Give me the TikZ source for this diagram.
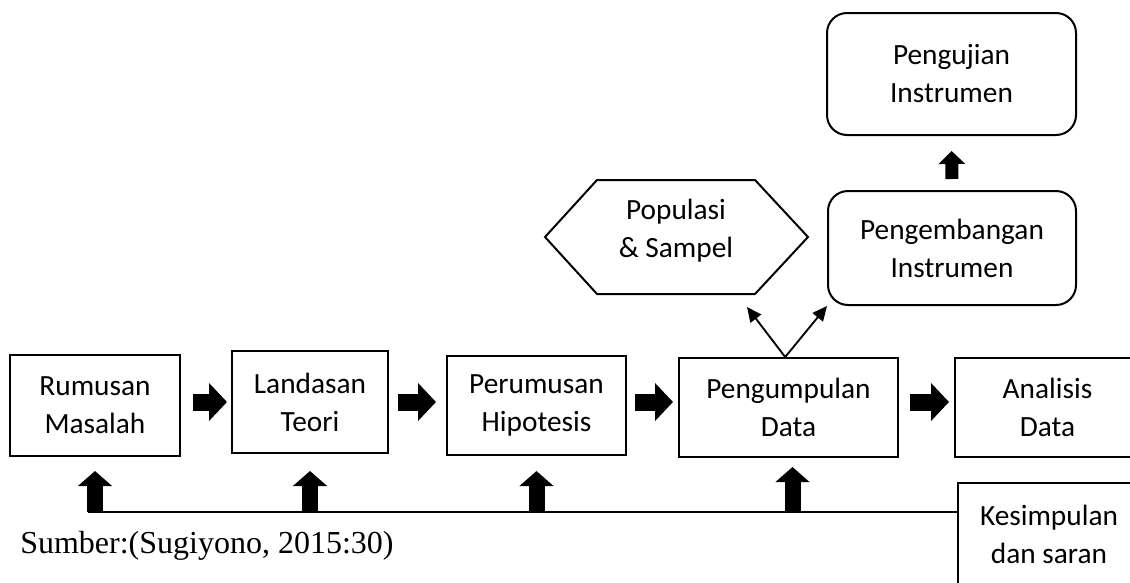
\documentclass[tikz,border=0pt]{standalone}
\usepackage{fontspec}
\setmainfont{Carlito}
\newfontfamily\srcfont{Liberation Serif}
\usetikzlibrary{arrows.meta,calc}
\begin{document}
\begin{tikzpicture}[x=0.75pt,y=-0.75pt,
  box/.style={draw,line width=1.5pt,align=center,inner sep=0pt,font=\fontsize{22}{28.5}\selectfont},
  rbox/.style={box,rounded corners=15pt},
  fatH/.style={line width=12.75pt,-{Triangle[width=27.75pt,length=13.5pt]}},
  fatV/.style={line width=12pt,-{Triangle[width=25pt,length=11.25pt]}},
  fatS/.style={line width=9.75pt,-{Triangle[width=19.5pt,length=9.75pt]}},
  thin/.style={line width=1.4pt,-{Triangle[width=10pt,length=11pt]}},
  fbline/.style={line width=1.6pt}]
\useasboundingbox (0,0) rectangle (1130,582);
\clip (0,0) rectangle (1130,582);
\fill[white] (0,0) rectangle (1130,582);

% main row
\node[box,minimum width=127.5pt,minimum height=75.75pt] (rm) at (95,405.5) {Rumusan\\Masalah};
\node[box,minimum width=117pt,minimum height=76.5pt] (ln) at (310,402) {Landasan\\Teori};
\node[box,minimum width=134.25pt,minimum height=74.25pt] (pr) at (536.5,405.5) {Perumusan\\Hipotesis};
\node[box,minimum width=164.25pt,minimum height=74.25pt] (pg) at (788.5,407.5) {Pengumpulan\\Data};
\node[box,minimum width=138.75pt,minimum height=74.25pt] (an) at (1047.5,407.5) {Analisis\\Data};
\node[box,minimum width=136.5pt,minimum height=76.5pt] (ks) at (1049,534) {Kesimpulan\\dan saran};

% upper
\node[rbox,minimum width=186.75pt,minimum height=91.5pt] (tst) at (951.5,74) {Pengujian\\Instrumen};
\node[rbox,minimum width=186pt,minimum height=85.5pt] (dev) at (952,248) {Pengembangan\\Instrumen};
\node[align=center,inner sep=0pt,font=\fontsize{22}{28.5}\selectfont] (pop) at (676,231) {Populasi\\\& Sampel};
\draw[line width=1.5pt,line join=miter] (545,237) -- (597,180) -- (755,180) -- (808,237) -- (755,294) -- (597,294) -- cycle;
\coordinate (popin) at (747,307);

% horizontal fat arrows
\draw[fatH,shorten <=9pt,shorten >=3pt] (rm.east |- 0,402) -- (ln.west |- 0,402);
\draw[fatH,shorten <=6.75pt,shorten >=7.5pt] (ln.east |- 0,402) -- (pr.west |- 0,402);
\draw[fatH,shorten <=6pt,shorten >=3.75pt] (pr.east |- 0,402) -- (pg.west |- 0,402);
\draw[fatH,shorten <=8.25pt,shorten >=3.75pt] (pg.east |- 0,402) -- (an.west |- 0,402);

% vertical fat arrow between rounded boxes
\draw[fatS,shorten <=8.25pt,shorten >=11.25pt] (dev.north) -- (tst.south);

% thin arrows
\draw[thin] ([xshift=-2.5pt]pg.north) -- (popin);
\draw[thin] ([xshift=-2.5pt]pg.north) -- (dev.south west);

% feedback line
\coordinate (fbR) at ($(ks.north west)+(0,30)$);
\draw[fbline] ($(rm.south |- fbR)+(-7,0)$) -- (fbR);
\draw[fatV] (rm.south |- fbR) -- ++(0,-41);
\draw[fatV] (ln.south |- fbR) -- ++(0,-41);
\draw[fatV] (pr.south |- fbR) -- ++(0,-41);
\draw[fatV] ([xshift=3pt]pg.south |- fbR) -- ++(0,-45);

% source
\node[anchor=base west,inner sep=0pt,font=\srcfont\fontsize{24}{28}\selectfont] (src) at (20,553) {Sumber:(Sugiyono, 2015:30)};
\end{tikzpicture}
\end{document}
